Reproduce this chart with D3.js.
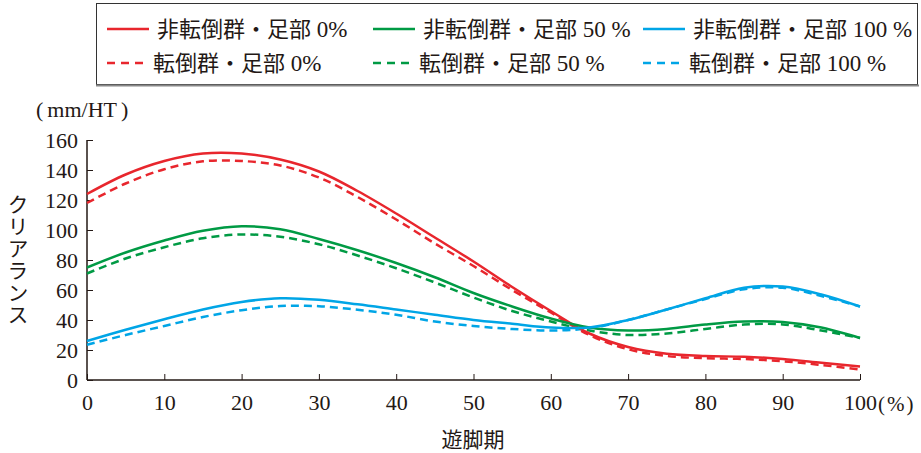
<!DOCTYPE html>
<html>
<head>
<meta charset="utf-8">
<script src="https://cdn.jsdelivr.net/npm/d3@7"></script>
<style>
  body { margin: 0; background: #fff; }
  svg text { fill: #231815; }
</style>
</head>
<body>
<svg id="chart" width="921" height="453"></svg>
<script>
// swing phase (%) sample points
var phase = [0, 5, 10, 15, 20, 25, 30, 35, 40, 45, 50, 55, 60, 65, 70, 75, 80, 85, 90, 95, 100];

// clearance (mm/HT)
var nonFall0   = [124, 137, 146, 151, 151, 147, 139, 126, 111, 95, 79, 62, 46, 31, 22, 17.5, 16, 15.5, 14, 11.5, 9];
var fall0      = [118, 131, 140.5, 145.8, 146, 143, 135, 122, 107, 91, 76, 60, 45, 30, 20.5, 16, 14.5, 14, 12.5, 10, 7];
var nonFall50  = [75, 85, 93, 99.5, 102.5, 100.5, 94, 86.5, 78, 68.5, 58, 49, 41, 35, 33, 34, 37, 39, 38.7, 35, 28];
var fall50     = [71, 81, 88.5, 94.5, 97, 95.5, 90.5, 83, 74.5, 65, 55, 46, 39, 33, 30, 31, 34, 37, 37, 33, 28];
var nonFall100 = [26, 33.5, 40.5, 47, 52, 54.5, 53.5, 50.5, 47, 43.5, 40, 37.5, 35, 35, 40, 47, 54.5, 61.5, 62.3, 57, 49];
var fall100    = [23.5, 30, 36, 42, 46.5, 49.3, 49.2, 46.8, 43.5, 39, 36, 34, 33, 34.5, 40, 47, 54, 60.5, 61.5, 56, 49];

var xTicks = [0, 10, 20, 30, 40, 50, 60, 70, 80, 90, 100];
var yTicks = [0, 20, 40, 60, 80, 100, 120, 140, 160];

var seriesNames = ["非転倒群・足部 0%", "非転倒群・足部 50 %", "非転倒群・足部 100 %",
                   "転倒群・足部 0%", "転倒群・足部 50 %", "転倒群・足部 100 %"];
var seriesColors = ["#e8262d", "#009a44", "#00a5e6", "#e8262d", "#009a44", "#00a5e6"];
var seriesDashed = [false, false, false, true, true, true];
var seriesValues = [nonFall0, nonFall50, nonFall100, fall0, fall50, fall100];

var svg = d3.select("#chart");
var numFont = "'Liberation Serif', 'DejaVu Serif', serif";
var jpFont = "'Noto Sans CJK JP', sans-serif";

var x = d3.scaleLinear().domain([0, 100]).range([87, 860]);
var y = d3.scaleLinear().domain([0, 160]).range([380, 140]);

/** legend box */
svg.append("rect")
  .attr("x", 96.5).attr("y", 3.5)
  .attr("width", 821).attr("height", 81)
  .attr("fill", "none").attr("stroke", "#333").attr("stroke-width", 1);
svg.append("line")
  .attr("x1", 96).attr("x2", 919).attr("y1", 85.5).attr("y2", 85.5)
  .attr("stroke", "#888").attr("stroke-width", 2);

var legendX = [107, 373, 643];
var legendY = [29, 63];
seriesNames.forEach(function(name, i) {
  var col = i % 3, row = Math.floor(i / 3);
  var g = svg.append("g").attr("transform", "translate(" + legendX[col] + "," + legendY[row] + ")");
  g.append("line")
    .attr("x1", 0).attr("x2", 42).attr("y1", 0).attr("y2", 0)
    .attr("stroke", seriesColors[i]).attr("stroke-width", 2.5)
    .attr("stroke-dasharray", seriesDashed[i] ? "8,6" : null);
  var t = g.append("text")
    .attr("x", row === 0 ? 50 : 46).attr("y", 8)
    .style("font-family", jpFont).style("font-size", "22px");
  var parts = name.split(" ");
  t.append("tspan").text(parts[0]);
  t.append("tspan").style("font-family", numFont).style("font-size", "23px").text(" " + parts[1]);
  if (parts[2]) t.append("tspan").style("font-family", numFont).style("font-size", "23px").text(" " + parts[2]);
});

/** axes */
var xAxis = d3.axisBottom(x).tickValues(xTicks).tickSize(-6).tickPadding(10).tickFormat(d3.format("d"));
var yAxis = d3.axisLeft(y).tickValues(yTicks).tickSize(-6).tickPadding(9).tickFormat(d3.format("d"));

var gx = svg.append("g").attr("transform", "translate(0,380)").call(xAxis);
var gy = svg.append("g").attr("transform", "translate(87,0)").call(yAxis);
[gx, gy].forEach(function(g) {
  g.select(".domain").attr("stroke", "#231815").attr("stroke-width", 1.5);
  g.selectAll(".tick line").attr("stroke", "#231815").attr("stroke-width", 1);
  g.selectAll(".tick text")
    .style("font-family", numFont).style("font-size", "22px").attr("fill", "#231815");
});
gx.select(".domain").attr("d", "M87,0H860");
gy.select(".domain").attr("d", "M0,380V140");
gx.selectAll(".tick text").attr("dy", "0.9em");
gy.selectAll(".tick text").attr("x", -9).attr("dy", "0.35em");

/** unit labels */
var pct = svg.append("text").attr("x", 878).attr("y", 411)
  .style("font-family", numFont).style("font-size", "21px");
pct.append("tspan").text("(");
pct.append("tspan").attr("dx", 2).text("%");
pct.append("tspan").attr("dx", 2).text(")");
var unit = svg.append("text").attr("x", 36).attr("y", 117)
  .style("font-family", numFont).style("font-size", "22px");
unit.append("tspan").text("(");
unit.append("tspan").attr("dx", 4).text("mm/HT");
unit.append("tspan").attr("dx", 4).text(")");
svg.append("text").attr("x", 473).attr("y", 447).attr("text-anchor", "middle")
  .style("font-family", jpFont).style("font-size", "21px").text("遊脚期");
svg.append("text").attr("x", 18).attr("y", 260).attr("text-anchor", "middle")
  .style("font-family", jpFont).style("font-size", "21px")
  .style("writing-mode", "vertical-rl").style("letter-spacing", "1px")
  .text("クリアランス");

/** series lines */
var line = d3.line()
  .x(function(d, i) { return x(phase[i]); })
  .y(function(d) { return y(d); })
  .curve(d3.curveCatmullRom.alpha(0.5));

[3, 4, 5, 0, 1, 2].forEach(function(i) {
  svg.append("path")
    .datum(seriesValues[i])
    .attr("d", line)
    .attr("fill", "none")
    .attr("stroke", seriesColors[i])
    .attr("stroke-width", 2.5)
    .attr("stroke-dasharray", seriesDashed[i] ? "8,5" : null);
});
</script>
</body>
</html>
